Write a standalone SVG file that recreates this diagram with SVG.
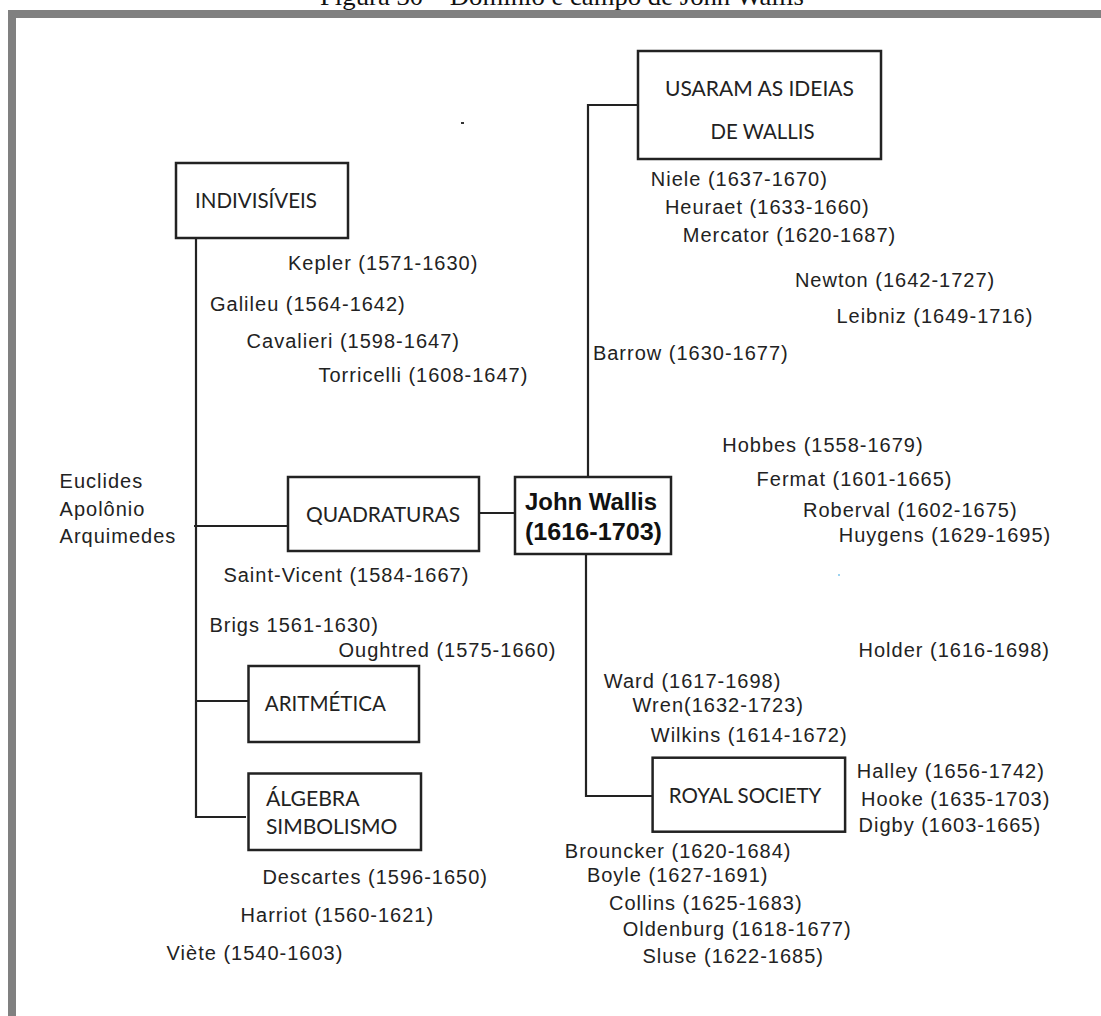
<svg xmlns="http://www.w3.org/2000/svg" width="1101" height="1016" viewBox="0 0 1101 1016">
<style>
.n{font-family:"Liberation Sans",Arial,sans-serif;font-size:20px;letter-spacing:1px;fill:#222}
.b{font-family:Lato,"Liberation Sans",sans-serif;font-size:21px;fill:#222}
.jw{font-family:"Liberation Sans",Arial,sans-serif;font-size:24px;font-weight:bold;fill:#111}
.box{fill:#fff;stroke:#222;stroke-width:2.5}
.ln{fill:none;stroke:#222;stroke-width:2.2}
</style>
<rect width="1101" height="1016" fill="#fff"/>
<text x="320" y="5" font-family="'Liberation Serif','Times New Roman',serif" font-size="26" textLength="484" lengthAdjust="spacingAndGlyphs" fill="#111">Figura 30 – Domínio e campo de John Wallis</text>
<path d="M12,1016 V14 H1101" fill="none" stroke="#808080" stroke-width="8"/>

<g id="connectors">
<path class="ln" d="M196,238 V817 H246"/>
<path class="ln" d="M194,526 H288"/>
<path class="ln" d="M196,701 H248"/>
<path class="ln" d="M479,513 H515"/>
<path class="ln" d="M640,105 H588 V477"/>
<path class="ln" d="M586,554 V796 H653"/>
</g>

<g id="indivisiveis">
<rect class="box" x="176" y="163" width="172" height="75"/>
<text class="b" x="195" y="208" textLength="122" lengthAdjust="spacingAndGlyphs">INDIVISÍVEIS</text>
</g>
<g id="quadraturas">
<rect class="box" x="288" y="477" width="191" height="74"/>
<text class="b" x="306" y="521.7" textLength="154" lengthAdjust="spacingAndGlyphs">QUADRATURAS</text>
</g>
<g id="john-wallis">
<rect class="box" x="515" y="477" width="156" height="77"/>
<text class="jw" x="525" y="510" textLength="132" lengthAdjust="spacingAndGlyphs">John Wallis</text>
<text class="jw" x="525" y="540" textLength="137" lengthAdjust="spacingAndGlyphs">(1616-1703)</text>
</g>
<g id="usaram">
<rect class="box" x="638" y="51" width="243" height="108"/>
<text class="b" x="665" y="96" textLength="189" lengthAdjust="spacingAndGlyphs">USARAM AS IDEIAS</text>
<text class="b" x="710.6" y="139.3" textLength="104" lengthAdjust="spacingAndGlyphs">DE WALLIS</text>
</g>
<g id="aritmetica">
<rect class="box" x="248.5" y="666" width="170.5" height="76"/>
<text class="b" x="264.8" y="710.7" textLength="121" lengthAdjust="spacingAndGlyphs">ARITMÉTICA</text>
</g>
<g id="algebra">
<rect class="box" x="248.5" y="773.5" width="172.5" height="76.5"/>
<text class="b" x="265.9" y="806" textLength="93.6" lengthAdjust="spacingAndGlyphs">ÁLGEBRA</text>
<text class="b" x="265.9" y="834" textLength="131.5" lengthAdjust="spacingAndGlyphs">SIMBOLISMO</text>
</g>
<g id="royal-society">
<rect class="box" x="652.6" y="757.7" width="192.5" height="74"/>
<text class="b" x="668.8" y="802.7" textLength="152.5" lengthAdjust="spacingAndGlyphs">ROYAL SOCIETY</text>
</g>

<g id="names">
<text class="n" x="288" y="270">Kepler (1571-1630)</text>
<text class="n" x="210" y="310.7">Galileu (1564-1642)</text>
<text class="n" x="246.6" y="348.3">Cavalieri (1598-1647)</text>
<text class="n" x="318.5" y="381.7">Torricelli (1608-1647)</text>
<text class="n" x="59.6" y="488.3">Euclides</text>
<text class="n" x="59.6" y="516">Apolônio</text>
<text class="n" x="59.6" y="543.3">Arquimedes</text>
<text class="n" x="223.4" y="581.7">Saint-Vicent (1584-1667)</text>
<text class="n" x="209.4" y="631.7">Brigs 1561-1630)</text>
<text class="n" x="338.5" y="656.7">Oughtred (1575-1660)</text>
<text class="n" x="262.4" y="884">Descartes (1596-1650)</text>
<text class="n" x="240.6" y="921.7">Harriot (1560-1621)</text>
<text class="n" x="166.6" y="960">Viète (1540-1603)</text>
<text class="n" x="650.8" y="186">Niele (1637-1670)</text>
<text class="n" x="664.9" y="214.3">Heuraet (1633-1660)</text>
<text class="n" x="682.8" y="241.7">Mercator (1620-1687)</text>
<text class="n" x="794.9" y="287.3">Newton (1642-1727)</text>
<text class="n" x="836.4" y="322.7">Leibniz (1649-1716)</text>
<text class="n" x="592.9" y="360">Barrow (1630-1677)</text>
<text class="n" x="722.2" y="452.3">Hobbes (1558-1679)</text>
<text class="n" x="756.6" y="486">Fermat (1601-1665)</text>
<text class="n" x="803" y="517.3">Roberval (1602-1675)</text>
<text class="n" x="838.8" y="542.3">Huygens (1629-1695)</text>
<text class="n" x="858.5" y="656.7">Holder (1616-1698)</text>
<text class="n" x="603.8" y="688.3">Ward (1617-1698)</text>
<text class="n" x="632.6" y="712.3">Wren(1632-1723)</text>
<text class="n" x="650.8" y="741.7">Wilkins (1614-1672)</text>
<text class="n" x="856.7" y="778.3">Halley (1656-1742)</text>
<text class="n" x="861" y="806">Hooke (1635-1703)</text>
<text class="n" x="858.5" y="831.7">Digby (1603-1665)</text>
<text class="n" x="564.8" y="858.3">Brouncker (1620-1684)</text>
<text class="n" x="586.9" y="881.7">Boyle (1627-1691)</text>
<text class="n" x="609" y="910">Collins (1625-1683)</text>
<text class="n" x="622.7" y="936">Oldenburg (1618-1677)</text>
<text class="n" x="642.4" y="962.7">Sluse (1622-1685)</text>
</g>
<rect x="461" y="122" width="3" height="2" fill="#333"/>
<rect x="838" y="574" width="2" height="2" fill="#9cd3f0"/>
</svg>
